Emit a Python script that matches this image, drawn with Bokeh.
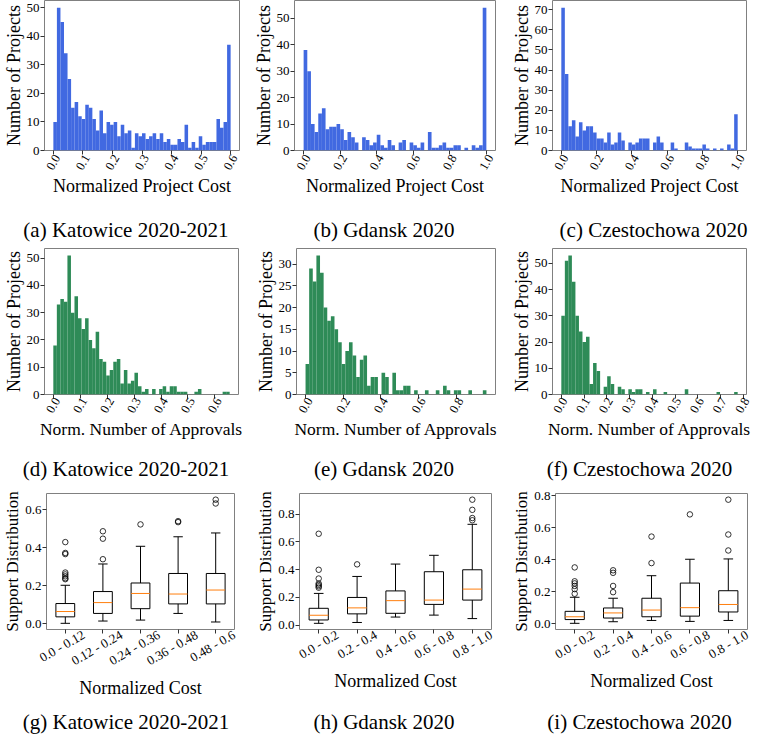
import math
from bokeh.plotting import figure
from bokeh.layouts import column, row
from bokeh.models import Range1d, FixedTicker, NumeralTickFormatter, LinearAxis, Div
from bokeh.embed import file_html
from bokeh.resources import INLINE

FONT = "Liberation Serif"
BLUE = "#4169e1"
GREEN = "#2e8b57"
ORANGE = "#ff7f0e"
SPINE = "#808080"
TICK = "#333333"

# ---------------- histogram data (50 bins each) ----------------
katowice_cost_counts = [10, 50, 45, 34, 25, 15, 17, 12, 11, 16, 15, 11, 7, 14, 6, 10, 9, 10, 5, 9,
                        6, 7, 1, 6, 5, 6, 4, 5, 6, 4, 6, 3, 4, 2, 2, 4, 3, 9, 1, 3,
                        1, 5, 2, 3, 3, 3, 11, 8, 10, 37]
katowice_cost_max = 0.6
gdansk_cost_counts = [38, 30, 10, 7, 14, 16, 8, 9, 9, 10, 8, 4, 7, 5, 3, 0, 5, 4, 2, 3,
                      6, 2, 1, 4, 2, 0, 3, 4, 0, 3, 2, 1, 3, 0, 7, 1, 1, 2, 3, 1,
                      1, 2, 2, 0, 1, 0, 2, 1, 2, 54]
gdansk_cost_max = 1.0
czest_cost_counts = [71, 38, 12, 15, 7, 14, 10, 12, 12, 9, 6, 6, 4, 9, 3, 4, 9, 5, 0, 4,
                     3, 4, 6, 6, 6, 0, 4, 7, 4, 0, 0, 4, 1, 0, 0, 4, 2, 1, 1, 1,
                     3, 1, 0, 1, 0, 1, 0, 3, 1, 18]
czest_cost_max = 1.0

katowice_appr_counts = [18, 33, 35, 34, 51, 30, 36, 28, 24, 28, 20, 17, 23, 13, 12, 7, 9, 12, 13, 4,
                        9, 4, 5, 8, 3, 1, 2, 0, 2, 0, 2, 3, 1, 3, 3, 1, 1, 1, 0, 0,
                        1, 2, 0, 0, 0, 0, 0, 0, 1, 1]
katowice_appr_max = 0.655
gdansk_appr_counts = [7, 29, 26, 32, 28, 20, 17, 18, 15, 12, 7, 10, 12, 9, 4, 8, 9, 2, 4, 4,
                      0, 5, 4, 0, 5, 1, 1, 2, 2, 0, 1, 0, 0, 1, 0, 0, 1, 0, 2, 1,
                      0, 1, 1, 0, 0, 1, 0, 0, 0, 1]
gdansk_appr_max = 0.96
czest_appr_counts = [30, 51, 53, 43, 30, 24, 20, 22, 4, 12, 9, 0, 3, 7, 4, 0, 3, 2, 0, 2,
                     1, 2, 2, 0, 1, 0, 2, 0, 0, 1, 0, 0, 0, 0, 0, 2, 0, 0, 0, 0,
                     0, 0, 0, 0, 1, 0, 0, 0, 0, 1]
czest_appr_max = 0.775

# tick values
ticks_x_06 = [0.0, 0.1, 0.2, 0.3, 0.4, 0.5, 0.6]
ticks_x_10 = [0.0, 0.2, 0.4, 0.6, 0.8, 1.0]
ticks_x_08 = [0.0, 0.2, 0.4, 0.6, 0.8]
ticks_x_08b = [0.0, 0.1, 0.2, 0.3, 0.4, 0.5, 0.6, 0.7, 0.8]
ticks_y_50 = [0, 10, 20, 30, 40, 50]
ticks_y_70 = [0, 10, 20, 30, 40, 50, 60, 70]
ticks_y_30 = [0, 5, 10, 15, 20, 25, 30]

# ---------------- box plot data ----------------
katowice_bins = ["0.0 - 0.12", "0.12 - 0.24", "0.24 - 0.36", "0.36 - 0.48", "0.48 - 0.6"]
katowice_lo = [0.003, 0.015, 0.02, 0.055, 0.01]
katowice_q1 = [0.037, 0.055, 0.08, 0.105, 0.105]
katowice_med = [0.065, 0.112, 0.16, 0.157, 0.178]
katowice_q3 = [0.107, 0.17, 0.215, 0.265, 0.265]
katowice_hi = [0.203, 0.315, 0.408, 0.458, 0.478]
katowice_out = [[0.43, 0.373, 0.367, 0.27, 0.26, 0.25, 0.24, 0.235],
                [0.487, 0.448, 0.34], [0.523], [0.54, 0.535], [0.653, 0.633]]

gdansk_bins = ["0.0 - 0.2", "0.2 - 0.4", "0.4 - 0.6", "0.6 - 0.8", "0.8 - 1.0"]
gdansk_lo = [0.014, 0.02, 0.059, 0.073, 0.048]
gdansk_q1 = [0.038, 0.082, 0.086, 0.15, 0.181]
gdansk_med = [0.072, 0.125, 0.177, 0.181, 0.26]
gdansk_q3 = [0.122, 0.2, 0.247, 0.385, 0.399]
gdansk_hi = [0.229, 0.351, 0.44, 0.503, 0.726]
gdansk_out = [[0.658, 0.399, 0.336, 0.30, 0.29, 0.28, 0.27], [0.438], [], [],
              [0.903, 0.83, 0.771, 0.755]]

czest_bins = ["0.0 - 0.2", "0.2 - 0.4", "0.4 - 0.6", "0.6 - 0.8", "0.8 - 1.0"]
czest_lo = [0.002, 0.012, 0.02, 0.014, 0.02]
czest_q1 = [0.0255, 0.035, 0.043, 0.047, 0.073]
czest_med = [0.043, 0.067, 0.085, 0.10, 0.12]
czest_q3 = [0.077, 0.098, 0.159, 0.254, 0.206]
czest_hi = [0.165, 0.159, 0.30, 0.403, 0.405]
czest_out = [[0.352, 0.265, 0.252, 0.236, 0.216, 0.187], [0.334, 0.318, 0.236, 0.197],
             [0.545, 0.379], [0.684], [0.776, 0.558, 0.458]]
box_ticks_y = [0.0, 0.2, 0.4, 0.6, 0.8]

captions = ["(a) Katowice 2020-2021", "(b) Gdansk 2020", "(c) Czestochowa 2020",
            "(d) Katowice 2020-2021", "(e) Gdansk 2020", "(f) Czestochowa 2020",
            "(g) Katowice 2020-2021", "(h) Gdansk 2020", "(i) Czestochowa 2020"]


def style_axis(ax, tick_size, label_size):
    ax.axis_line_color = None
    ax.major_tick_line_color = TICK
    ax.major_tick_out = 4
    ax.major_tick_in = 0
    ax.minor_tick_line_color = None
    ax.major_label_text_font = FONT
    ax.major_label_text_font_size = tick_size
    ax.major_label_text_color = "black"
    ax.axis_label_text_font = FONT
    ax.axis_label_text_font_style = "normal"
    ax.axis_label_text_font_size = label_size
    ax.axis_label_text_color = "black"
    ax.major_label_standoff = 1
    ax.axis_label_standoff = 0


def base_fig(geom, xr, yr):
    w, h, ml, mr, mt, mb = geom
    p = figure(width=w, height=h, min_border_left=ml, min_border_right=mr,
               min_border_top=mt, min_border_bottom=mb,
               x_range=Range1d(*xr), y_range=Range1d(*yr),
               output_backend="svg", toolbar_location=None)
    p.grid.visible = False
    p.outline_line_color = SPINE
    p.outline_line_width = 1
    p.background_fill_color = "white"
    p.border_fill_color = "white"
    return p


def centred_label_axis(p, geom, xr, ticks, shift_px, angle_deg, tick_size, label_size,
                       label, standoff, overrides=None, formatter=None):
    """Tick marks stay on the main axis; labels go on a second axis whose range is
    shifted so that the rotated labels sit centred under their ticks."""
    w, h, ml, mr, mt, mb = geom
    frame_w = w - ml - mr
    shift = shift_px * (xr[1] - xr[0]) / frame_w
    shift = min(shift, (xr[1] - max(ticks)) * 0.98)
    xa = p.xaxis[0]
    style_axis(xa, "0px", label_size)
    xa.ticker = FixedTicker(ticks=ticks)
    xa.major_label_text_alpha = 0
    xa.major_label_standoff = 0
    p.extra_x_ranges = {"labels": Range1d(xr[0] - shift, xr[1] - shift)}
    la = LinearAxis(x_range_name="labels")
    style_axis(la, tick_size, label_size)
    la.major_tick_out = 0
    la.major_tick_line_color = None
    la.major_label_standoff = standoff
    la.ticker = FixedTicker(ticks=ticks)
    if overrides is not None:
        la.major_label_overrides = overrides
    if formatter is not None:
        la.formatter = formatter
    la.major_label_orientation = math.radians(angle_deg)
    la.axis_label = label
    p.add_layout(la, "below")


def hist_fig(geom, counts, xmax, color, xticks, yticks, xlabel, xlab_size, standoff):
    n = len(counts)
    edges = [xmax * i / n for i in range(n + 1)]
    ytop = max(counts) * 1.05
    xr = (-0.05 * xmax, 1.05 * xmax)
    p = base_fig(geom, xr, (0, ytop))
    p.quad(left=edges[:-1], right=edges[1:], bottom=0, top=counts,
           fill_color=color, line_color=None)
    centred_label_axis(p, geom, xr, xticks, 4, 60, "12.5px", xlab_size, xlabel, standoff,
                       formatter=NumeralTickFormatter(format="0.0"))
    ya = p.yaxis[0]
    style_axis(ya, "13px", "18px")
    ya.axis_label = "Number of Projects"
    ya.ticker = FixedTicker(ticks=yticks)
    return p


def box_fig(geom, labels, lo, q1, med, q3, hi, outliers):
    n = len(labels)
    pos = [i + 1 for i in range(n)]
    allv = lo + hi + [v for o in outliers for v in o]
    ymin, ymax = min(allv), max(allv)
    pad = 0.05 * (ymax - ymin)
    xr = (0.5, n + 0.5)
    p = base_fig(geom, xr, (ymin - pad, ymax + pad))
    bw = 0.5
    cw = 0.25
    p.segment(x0=pos, y0=q3, x1=pos, y1=hi, line_color="black", line_width=1)
    p.segment(x0=pos, y0=q1, x1=pos, y1=lo, line_color="black", line_width=1)
    p.segment(x0=[x - cw / 2 for x in pos], y0=hi, x1=[x + cw / 2 for x in pos], y1=hi,
              line_color="black", line_width=1)
    p.segment(x0=[x - cw / 2 for x in pos], y0=lo, x1=[x + cw / 2 for x in pos], y1=lo,
              line_color="black", line_width=1)
    p.quad(left=[x - bw / 2 for x in pos], right=[x + bw / 2 for x in pos], bottom=q1, top=q3,
           fill_color=None, line_color="black", line_width=1)
    p.segment(x0=[x - bw / 2 for x in pos], y0=med, x1=[x + bw / 2 for x in pos], y1=med,
              line_color=ORANGE, line_width=1)
    ox = [pos[i] for i, o in enumerate(outliers) for _ in o]
    oy = [v for o in outliers for v in o]
    p.scatter(x=ox, y=oy, marker="circle", size=5.5, fill_color=None,
              line_color="black", line_width=0.8)

    frame_w = geom[0] - geom[2] - geom[3]
    centred_label_axis(p, geom, xr, pos, 22, 30, "13px", "18px", "Normalized Cost", 0,
                       overrides={pos[i]: labels[i] for i in range(n)})

    ya = p.yaxis[0]
    style_axis(ya, "13px", "17px")
    ya.axis_label = "Support Distribution"
    ya.ticker = FixedTicker(ticks=box_ticks_y)
    ya.formatter = NumeralTickFormatter(format="0.0")
    return p


def caption_div(text, width, height, offset):
    pad = "padding-left:%dpx;" % (2 * offset) if offset >= 0 else "padding-right:%dpx;" % (-2 * offset)
    html = ('<div style="box-sizing:border-box;width:%dpx;height:%dpx;line-height:%dpx;%s'
            'text-align:center;font-family:\'Liberation Serif\',serif;font-size:21px;'
            'color:#000;white-space:nowrap;">%s</div>'
            % (width, height, height, pad, text))
    return Div(text=html, width=width, height=height, margin=0)


# geometry: width, height, min_border_left, right, top, bottom
fa = hist_fig((250, 218, 39, 11, 0, 68), katowice_cost_counts, katowice_cost_max, BLUE,
              ticks_x_06, ticks_y_50, "Normalized Project Cost", "18px", 1)
fb = hist_fig((258, 218, 42, 13, 0, 68), gdansk_cost_counts, gdansk_cost_max, BLUE,
              ticks_x_10, ticks_y_50, "Normalized Project Cost", "18px", 1)
fc = hist_fig((245, 218, 43, 7, 0, 68), czest_cost_counts, czest_cost_max, BLUE,
              ticks_x_10, ticks_y_70, "Normalized Project Cost", "18px", 1)

fd = hist_fig((250, 214, 39, 12, 1, 63), katowice_appr_counts, katowice_appr_max, GREEN,
              ticks_x_06, ticks_y_50, "Norm. Number of Approvals", "17.5px", 0)
fe = hist_fig((258, 214, 46, 13, 1, 63), gdansk_appr_counts, gdansk_appr_max, GREEN,
              ticks_x_08, ticks_y_30, "Norm. Number of Approvals", "17.5px", 0)
ff = hist_fig((245, 214, 43, 7, 5, 62), czest_appr_counts, czest_appr_max, GREEN,
              ticks_x_08b, ticks_y_50, "Norm. Number of Approvals", "17.5px", 0)

fg = box_fig((250, 228, 43, 16, 5, 81), katowice_bins, katowice_lo, katowice_q1, katowice_med,
             katowice_q3, katowice_hi, katowice_out)
fh = box_fig((258, 228, 49, 17, 11, 73), gdansk_bins, gdansk_lo, gdansk_q1, gdansk_med,
             gdansk_q3, gdansk_hi, gdansk_out)
fi = box_fig((245, 228, 47, 6, 11, 73), czest_bins, czest_lo, czest_q1, czest_med,
             czest_q3, czest_hi, czest_out)

widths = [250, 258, 245]
cap_offsets = [1, 5, 23, 1, 5, 9, 1, 5, 9]
cap_heights = [25, 25, 25]
cap_rows = []
for r in range(3):
    cap_rows.append(row(*[caption_div(captions[3 * r + c], widths[c], cap_heights[r],
                                      cap_offsets[3 * r + c]) for c in range(3)]))

layout = column(row(fa, fb, fc), cap_rows[0],
                row(fd, fe, ff), cap_rows[1],
                row(fg, fh, fi), cap_rows[2])

open("out.html", "w").write(file_html(layout, INLINE, title="Project distributions"))
